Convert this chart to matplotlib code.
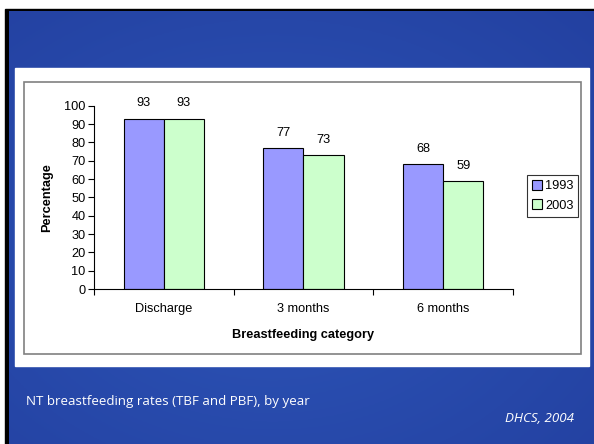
import numpy as np
import matplotlib
matplotlib.use("Agg")
import matplotlib.pyplot as plt
from matplotlib.patches import Rectangle

categories = ["Discharge", "3 months", "6 months"]
years = ["1993", "2003"]
rates_1993 = [93, 77, 68]
rates_2003 = [93, 73, 59]
yticks = list(range(0, 101, 10))

W, H = 594, 444
fig = plt.figure(figsize=(W / 100, H / 100), dpi=100)
fig.patch.set_facecolor("white")


def px(x0, y0, x1, y1):
    # pixel box (top-left origin) -> figure fraction rect
    return [x0 / W, 1 - y1 / H, (x1 - x0) / W, (y1 - y0) / H]


# slide background: black frame + blue gradient
bg = fig.add_axes([0, 0, 1, 1])
bg.set_xlim(0, W)
bg.set_ylim(H, 0)
bg.axis("off")
bg.add_patch(Rectangle((5, 9), W - 5, H - 9, color="black"))
yy, xx = np.mgrid[0:1:200j, 0:1:200j]
d = np.sqrt((xx - 0.45) ** 2 + (yy - 0.55) ** 2)
c_in = np.array([0x2d, 0x55, 0xb8]) / 255
c_out = np.array([0x23, 0x40, 0xa0]) / 255
t = np.clip(d / 0.8, 0, 1)[..., None]
grad = c_in * (1 - t) + c_out * t
bg.imshow(grad, extent=(9, W, H, 12), aspect="auto", zorder=1)
bg.add_patch(Rectangle((15, 68), 574, 298, color="white", zorder=2))
bg.add_patch(Rectangle((24, 82), 557, 272, fill=False, ec="#808080", lw=1.2, zorder=3))

bg.text(26, 401, "NT breastfeeding rates (TBF and PBF), by year", color="white",
        fontsize=9.6, family="Open Sans", va="center", ha="left", zorder=4)
bg.text(574, 418, "DHCS, 2004", color="white", fontsize=9.6, family="Open Sans",
        style="italic", va="center", ha="right", zorder=4)

# chart
ax = fig.add_axes(px(94, 105.7, 513, 289))
x = np.arange(len(categories))
bw = 0.287
fs = 9.2
b1 = ax.bar(x - bw / 2, rates_1993, bw, color="#9999ff", edgecolor="black", lw=0.8,
            label=years[0])
b2 = ax.bar(x + bw / 2, rates_2003, bw, color="#ccffcc", edgecolor="black", lw=0.8,
            label=years[1])
for bars in (b1, b2):
    for r in bars:
        ax.text(r.get_x() + r.get_width() / 2, r.get_height() + 5, f"{r.get_height():.0f}",
                ha="center", va="bottom", fontsize=fs, family="Liberation Sans")

ax.set_xlim(-0.5, len(categories) - 0.5)
ax.set_ylim(0, 100)
ax.set_yticks(yticks)
ax.set_yticklabels([str(v) for v in yticks], family="Liberation Sans", fontsize=fs)
ax.set_xticks(x)
ax.set_xticklabels(categories, family="Liberation Sans", fontsize=fs)
ax.tick_params(axis="x", length=0, pad=10)
ax.set_xticks(np.arange(-0.5, len(categories)), minor=True)
ax.tick_params(axis="x", which="minor", length=4, width=0.8, direction="out")
ax.tick_params(axis="y", length=4, width=0.8, direction="out", pad=2)
for s in ("top", "right"):
    ax.spines[s].set_visible(False)
ax.spines["left"].set_linewidth(0.8)
ax.spines["bottom"].set_linewidth(0.8)
ax.set_ylabel("Percentage", fontsize=fs, fontweight="bold", family="Liberation Sans",
              labelpad=8)
ax.set_xlabel("Breastfeeding category", fontsize=fs, fontweight="bold",
              family="Liberation Sans", labelpad=10)

leg = ax.legend(loc="upper left", bbox_to_anchor=((527 - 94) / 419, 1 - (175 - 105.7) / 183.3),
                frameon=True, fancybox=False, edgecolor="black",
                prop={"family": "Liberation Sans", "size": fs},
                handlelength=0.8, handleheight=0.8, handletextpad=0.2,
                borderpad=0.4, labelspacing=0.55, borderaxespad=0)
leg.get_frame().set_linewidth(0.8)

fig.savefig("out.png", dpi=100)
